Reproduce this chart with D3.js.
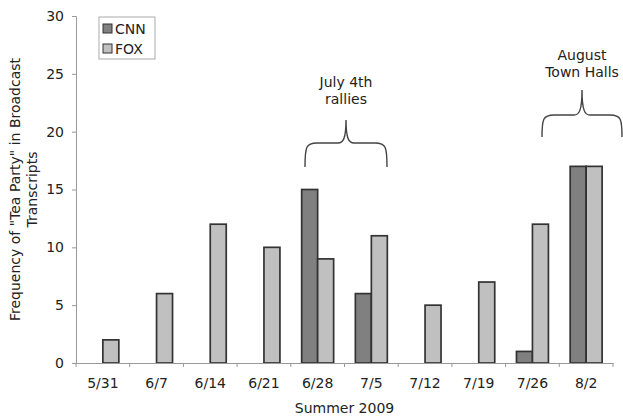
<!DOCTYPE html>
<html>
<head>
<meta charset="utf-8">
<script src="https://cdn.jsdelivr.net/npm/d3@7"></script>
<style>
  body { margin: 0; background: #fff; }
  text { font-family: "DejaVu Sans", Verdana, sans-serif; fill: #222; }
</style>
</head>
<body>
<script>
// weeks of summer 2009
var weeks = ["5/31", "6/7", "6/14", "6/21", "6/28", "7/5", "7/12", "7/19", "7/26", "8/2"];
var cnn = [0, 0, 0, 0, 15, 6, 0, 0, 1, 17];
var fox = [2, 6, 12, 10, 9, 11, 5, 7, 12, 17];
var seriesNames = ["CNN", "FOX"];
var seriesColors = ["#808080", "#c0c0c0"];
var yTicks = [0, 5, 10, 15, 20, 25, 30];

var w = 623;
var h = 418;
var margin = { top: 16, right: 10, bottom: 55, left: 76 };

var svg = d3.select("body").append("svg").attr("width", w).attr("height", h);

var x = d3
  .scaleBand()
  .domain(weeks)
  .range([margin.left, w - margin.right])
  .paddingInner(0)
  .paddingOuter(0);

var x1 = d3
  .scaleBand()
  .domain(seriesNames)
  .range([0, x.bandwidth()])
  .paddingOuter(0.68)
  .paddingInner(0);

var y = d3
  .scaleLinear()
  .domain([0, 30])
  .range([h - margin.bottom, margin.top]);

var rows = weeks.map(function (d, i) {
  return { week: d, values: [cnn[i], fox[i]] };
});

// bars
var groups = svg
  .selectAll(".week")
  .data(rows)
  .enter()
  .append("g")
  .attr("class", "week")
  .attr("transform", function (d) {
    return "translate(" + x(d.week) + ",0)";
  });

groups
  .selectAll("rect")
  .data(function (d) {
    return d.values.map(function (v, j) {
      return { name: seriesNames[j], value: v, color: seriesColors[j] };
    });
  })
  .enter()
  .filter(function (d) {
    return d.value > 0;
  })
  .append("rect")
  .attr("x", function (d) {
    return x1(d.name);
  })
  .attr("y", function (d) {
    return y(d.value);
  })
  .attr("width", x1.bandwidth())
  .attr("height", function (d) {
    return y(0) - y(d.value);
  })
  .style("fill", function (d) {
    return d.color;
  })
  .style("stroke", "#333")
  .style("stroke-width", 1.7);

// y axis
var yAxis = svg
  .append("g")
  .attr("transform", "translate(" + margin.left + ",0)")
  .call(d3.axisLeft(y).tickValues(yTicks).tickSize(4).tickPadding(8));
yAxis.selectAll("text").style("font-size", "14px");

// x axis, ticks at category boundaries
var xAxis = svg
  .append("g")
  .attr("transform", "translate(0," + y(0) + ")")
  .call(d3.axisBottom(x).tickSize(0).tickPadding(15));
xAxis.selectAll("text").style("font-size", "14px");
xAxis
  .selectAll(".bound")
  .data(weeks.concat(["end"]))
  .enter()
  .append("line")
  .attr("x1", function (d, i) {
    return i < weeks.length ? x(d) : x.range()[1];
  })
  .attr("x2", function (d, i) {
    return i < weeks.length ? x(d) : x.range()[1];
  })
  .attr("y1", 0)
  .attr("y2", 4)
  .style("stroke", "#999");

svg.selectAll(".domain").style("stroke", "#999");
svg.selectAll(".tick line").style("stroke", "#999");

// axis titles
svg
  .append("text")
  .attr("x", (margin.left + w - margin.right) / 2)
  .attr("y", 413)
  .attr("text-anchor", "middle")
  .style("font-size", "14px")
  .text("Summer 2009");

var ylab = svg
  .append("text")
  .attr("transform", "translate(20," + (y(0) + y(30)) / 2 + ") rotate(-90)")
  .attr("text-anchor", "middle")
  .style("font-size", "14px");
ylab.append("tspan").attr("x", 0).attr("dy", 0).text("Frequency of \"Tea Party\" in Broadcast");
ylab.append("tspan").attr("x", 0).attr("dy", 17).text("Transcripts");

// legend
var legend = svg.append("g").attr("transform", "translate(99,17)");
legend
  .append("rect")
  .attr("width", 56)
  .attr("height", 42)
  .style("fill", "#fff")
  .style("stroke", "#aaa");
seriesNames.forEach(function (name, i) {
  legend
    .append("rect")
    .attr("x", 4)
    .attr("y", 7 + i * 20)
    .attr("width", 9)
    .attr("height", 9)
    .style("fill", seriesColors[i])
    .style("stroke", "#333");
  legend
    .append("text")
    .attr("x", 16)
    .attr("y", 17 + i * 20)
    .style("font-size", "14px")
    .text(name);
});

// curly brace opening downward
function brace(x0, x2, yEnd, yMid, yTop) {
  var xc = (x0 + x2) / 2;
  var r = 8;
  return (
    "M" + x0 + "," + yEnd +
    " C" + x0 + "," + (yMid + 4) + " " + (x0 + 1) + "," + yMid + " " + (x0 + r * 1.5) + "," + yMid +
    " L" + (xc - r) + "," + yMid +
    " C" + (xc - 3) + "," + yMid + " " + xc + "," + (yMid - 4) + " " + xc + "," + yTop +
    " C" + xc + "," + (yMid - 4) + " " + (xc + 3) + "," + yMid + " " + (xc + r) + "," + yMid +
    " L" + (x2 - r * 1.5) + "," + yMid +
    " C" + (x2 - 1) + "," + yMid + " " + x2 + "," + (yMid + 4) + " " + x2 + "," + yEnd
  );
}

var notes = [
  { lines: ["July 4th", "rallies"], x0: 305, x2: 387, yEnd: 167, yMid: 143, yTop: 120, ty: 87 },
  { lines: ["August", "Town Halls"], x0: 542, x2: 622, yEnd: 137, yMid: 115, yTop: 90, ty: 60 }
];
notes.forEach(function (n) {
  svg
    .append("path")
    .attr("d", brace(n.x0, n.x2, n.yEnd, n.yMid, n.yTop))
    .style("fill", "none")
    .style("stroke", "#444")
    .style("stroke-width", 1.4);
  var t = svg
    .append("text")
    .attr("text-anchor", "middle")
    .style("font-size", "14px");
  n.lines.forEach(function (l, k) {
    t.append("tspan")
      .attr("x", (n.x0 + n.x2) / 2)
      .attr("y", n.ty + k * 17)
      .text(l);
  });
});
</script>
</body>
</html>
